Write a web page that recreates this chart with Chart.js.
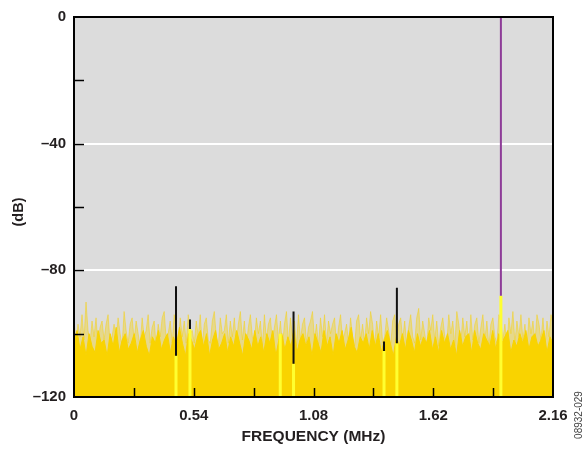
<!DOCTYPE html>
<html>
<head>
<meta charset="utf-8">
<script src="https://cdn.jsdelivr.net/npm/chart.js@4/dist/chart.umd.min.js"></script>
<style>
  html, body { margin: 0; padding: 0; background: #fff; }
  #wrap { width: 584px; height: 449px; position: relative; }
</style>
</head>
<body>
<div id="wrap"><canvas id="spectrum"></canvas></div>
<script>
'use strict';

/* ---------- data ---------- */
const xTickValues = [0, 0.27, 0.54, 0.81, 1.08, 1.35, 1.62, 1.89, 2.16];
const xTickLabels = ['0', '', '0.54', '', '1.08', '', '1.62', '', '2.16'];
const yTickValues = [0, -20, -40, -60, -80, -100, -120];
const yTickLabels = ['0', '', '–40', '', '–80', '', '–120'];
const gridLevels  = [-40, -80];

// pale noise peaks, evenly spaced bins over 0..2.16 MHz
const noisePeaks = [
  -96,-103,-97,-101,-94,-102,-90,-99,-103,-96,-101,-95,-104,-98,-96,-102,-97,-94,-103,-101,
  -97,-102,-95,-100,-104,-93,-99,-103,-97,-95,-102,-96,-100,-104,-95,-101,-99,-94,-103,-98,
  -96,-104,-97,-101,-95,-93,-102,-100,-96,-103,-94,-99,-104,-95,-101,-96,-103,-94,-100,-99,
  -103,-96,-101,-94,-104,-97,-95,-102,-103,-96,-93,-101,-104,-95,-100,-99,-94,-103,-96,-101,
  -95,-103,-97,-93,-102,-96,-104,-98,-94,-101,-103,-95,-100,-96,-104,-94,-102,-97,-95,-103,
  -98,-94,-102,-96,-104,-97,-93,-103,-95,-101,-96,-104,-94,-102,-97,-95,-103,-98,-96,-93,
  -102,-97,-104,-95,-101,-94,-103,-96,-100,-97,-95,-104,-98,-94,-102,-100,-97,-103,-95,-101,
  -104,-96,-94,-102,-97,-103,-95,-100,-93,-97,-104,-96,-101,-94,-103,-101,-95,-99,-104,-96,
  -94,-103,-97,-95,-102,-96,-104,-98,-94,-101,-103,-95,-92,-102,-96,-100,-104,-95,-99,-94,
  -102,-96,-104,-98,-95,-101,-103,-94,-100,-96,-104,-93,-97,-103,-95,-101,-96,-104,-94,-102,
  -97,-95,-103,-98,-94,-102,-96,-104,-97,-95,-101,-103,-94,-96,-102,-97,-104,-95,-100,-93,
  -103,-96,-101,-94,-102,-97,-104,-95,-100,-96,-103,-94,-97,-102,-95,-104,-96,-101,-94,-97
];

// solid noise body
const noiseBody = [
  -103,-99,-105,-101,-107,-100,-104,-106,-99,-103,-102,-107,-100,-104,-98,-106,-102,-100,-105,-103,
  -100,-106,-102,-99,-104,-107,-101,-103,-99,-105,-102,-100,-106,-101,-104,-98,-103,-107,-100,-102,
  -105,-101,-99,-104,-100,-107,-102,-99,-105,-103,-100,-106,-101,-104,-99,-103,-107,-100,-102,-105,
  -99,-104,-101,-106,-100,-103,-99,-107,-102,-100,-105,-101,-104,-99,-106,-102,-100,-104,-101,-107,
  -100,-103,-106,-99,-104,-101,-107,-100,-103,-99,-105,-102,-98,-104,-106,-101,-103,-100,-105,-99,
  -104,-100,-106,-102,-99,-103,-107,-101,-104,-100,-105,-99,-102,-106,-100,-104,-101,-103,-99,-105,
  -101,-106,-99,-103,-100,-105,-102,-107,-99,-104,-101,-100,-106,-99,-103,-105,-100,-102,-104,-99,
  -105,-100,-103,-101,-99,-106,-102,-104,-100,-103,-99,-105,-101,-100,-104,-102,-99,-106,-101,-103
];

// spurs (black), with the bright bin below each
const spurFreq   = [0.46, 0.523, 0.99, 1.398, 1.456];
const spurTop    = [-85, -95.5, -93, -102.5, -85.5];
const spurBottom = [-107, -98.5, -109.5, -105.5, -103];

const brightFreq = [0.46, 0.523, 0.93, 0.99, 1.398, 1.456, 1.925];
const brightTop  = [-107, -98.5, -100, -109.5, -105.5, -103, -88];

// carrier (purple)
const carrierFreq = 1.925;
const carrierTop = 0;
const carrierBottom = -88;

/* ---------- helpers ---------- */
const F_MAX = 2.16;
const FONT = '"Liberation Sans", Arial, sans-serif';
const INK = '#231f20';

function binSeries(values) {
  const step = F_MAX / (values.length - 1);
  return values.map((v, i) => ({ x: i * step, y: v }));
}

function segments(xs, tops, bottoms) {
  const pts = [];
  xs.forEach((x, i) => {
    pts.push({ x, y: tops[i] }, { x, y: bottoms[i] }, { x, y: null });
  });
  return pts;
}

/* ---------- plugins ---------- */
const plotFrame = {
  id: 'plotFrame',
  beforeDraw(chart) {
    const { ctx, chartArea: a } = chart;
    ctx.save();
    ctx.fillStyle = '#dcdcdc';
    ctx.fillRect(a.left, a.top, a.right - a.left, a.bottom - a.top);
    ctx.restore();
  },
  afterDraw(chart) {
    const { ctx, chartArea: a, scales } = chart;
    ctx.save();
    ctx.strokeStyle = '#000';

    // inner tick marks
    ctx.lineWidth = 1.5;
    ctx.beginPath();
    yTickValues.slice(1, -1).forEach(v => {
      const y = Math.round(scales.y.getPixelForValue(v)) + 0.5;
      ctx.moveTo(a.left, y);
      ctx.lineTo(a.left + 10, y);
    });
    xTickValues.slice(1, -1).forEach(v => {
      const x = Math.round(scales.x.getPixelForValue(v)) + 0.5;
      ctx.moveTo(x, a.bottom);
      ctx.lineTo(x, a.bottom - 9);
    });
    ctx.stroke();

    // frame
    ctx.lineWidth = 2;
    ctx.strokeRect(a.left, a.top, a.right - a.left, a.bottom - a.top);

    // axis titles
    ctx.fillStyle = INK;
    ctx.font = 'bold 15.5px ' + FONT;
    ctx.textAlign = 'center';
    ctx.textBaseline = 'middle';
    ctx.fillText('FREQUENCY (MHz)', (a.left + a.right) / 2, 437);

    ctx.save();
    ctx.translate(19, 212);
    ctx.rotate(-Math.PI / 2);
    ctx.font = 'bold 14.5px ' + FONT;
    ctx.fillText('(dB)', 0, 0);
    ctx.restore();

    // figure code
    ctx.save();
    ctx.translate(579, 415);
    ctx.rotate(-Math.PI / 2);
    ctx.fillStyle = '#444';
    ctx.font = '10px ' + FONT;
    ctx.fillText('08932-029', 0, 0);
    ctx.restore();

    ctx.restore();
  }
};

/* ---------- chart ---------- */
new Chart(document.getElementById('spectrum'), {
  type: 'line',
  data: {
    datasets: [
      {
        data: segments([carrierFreq], [carrierTop], [carrierBottom]),
        borderColor: '#8e3c98',
        borderWidth: 2,
        spanGaps: false,
        order: 0
      },
      {
        data: segments(spurFreq, spurTop, spurBottom),
        borderColor: '#111',
        borderWidth: 2,
        spanGaps: false,
        order: 1
      },
      {
        data: segments(brightFreq, brightTop, brightFreq.map(() => -120)),
        borderColor: '#ffff30',
        borderWidth: 3,
        spanGaps: false,
        order: 2
      },
      {
        data: binSeries(noiseBody),
        borderColor: '#f9d300',
        backgroundColor: '#f9d300',
        borderWidth: 1,
        fill: 'start',
        order: 3
      },
      {
        data: binSeries(noisePeaks),
        borderColor: 'rgba(245,210,20,0.5)',
        backgroundColor: 'rgba(245,210,20,0.4)',
        borderWidth: 1,
        fill: 'start',
        order: 4
      }
    ]
  },
  options: {
    responsive: true,
    maintainAspectRatio: false,
    animation: false,
    events: [],
    elements: { point: { radius: 0 }, line: { tension: 0 } },
    layout: { padding: { left: 0, right: 31, top: 14, bottom: 0 } },
    plugins: { legend: { display: false }, tooltip: { enabled: false } },
    scales: {
      x: {
        type: 'linear',
        min: 0,
        max: F_MAX,
        afterBuildTicks: s => { s.ticks = xTickValues.map(v => ({ value: v })); },
        afterFit: s => { s.height = 52; },
        grid: { display: false, drawTicks: false },
        border: { display: false },
        ticks: {
          autoSkip: false,
          maxRotation: 0,
          padding: 10,
          color: INK,
          font: { family: FONT, size: 15, weight: 'bold' },
          callback: (v, i) => xTickLabels[i]
        }
      },
      y: {
        min: -120,
        max: 0,
        afterBuildTicks: s => { s.ticks = yTickValues.map(v => ({ value: v })); },
        afterFit: s => { s.width = 74; },
        grid: {
          drawTicks: false,
          lineWidth: 2,
          color: c => gridLevels.includes(c.tick && c.tick.value) ? '#ffffff' : 'rgba(0,0,0,0)'
        },
        border: { display: false },
        ticks: {
          autoSkip: false,
          padding: 8,
          color: INK,
          font: { family: FONT, size: 15, weight: 'bold' },
          callback: (v, i) => yTickLabels[i]
        }
      }
    }
  },
  plugins: [plotFrame]
});
</script>
</body>
</html>
